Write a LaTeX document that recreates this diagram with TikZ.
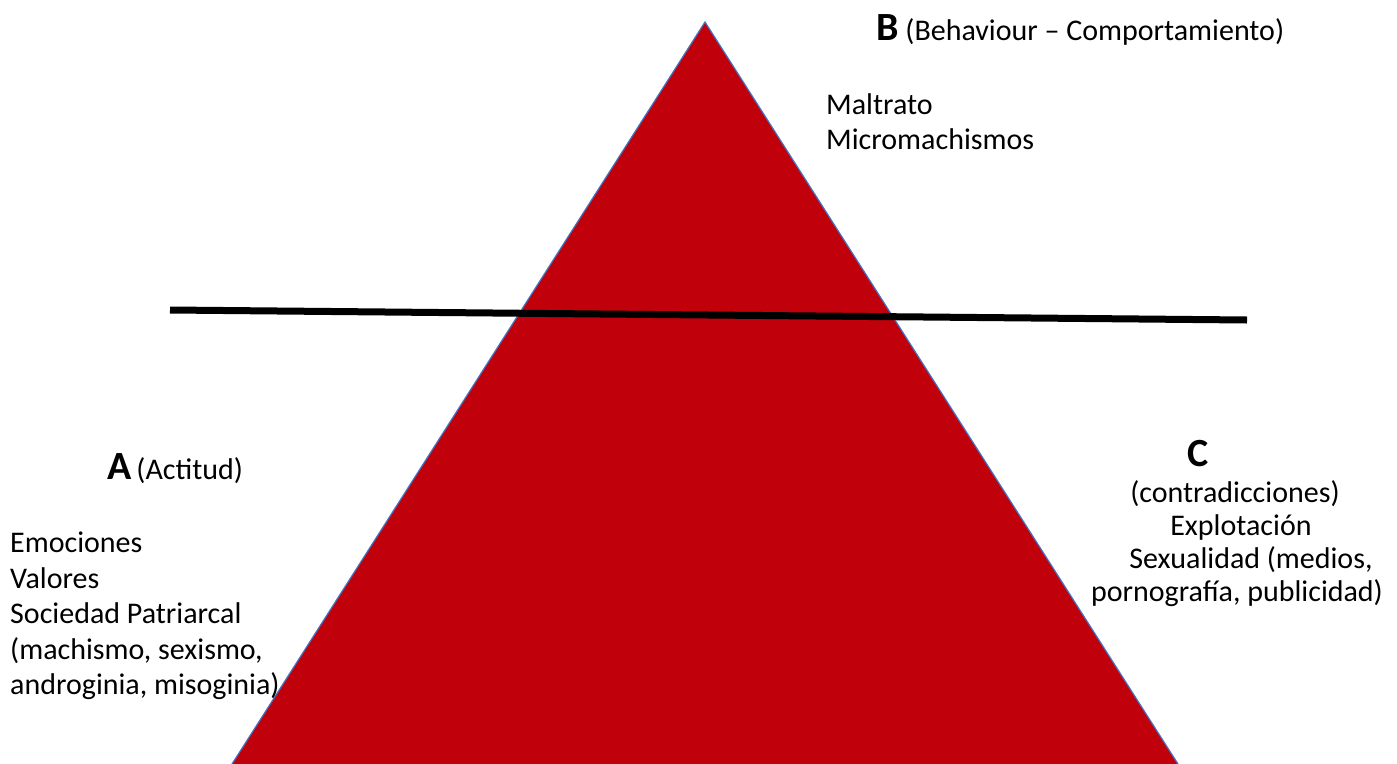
\documentclass[tikz,border=0pt]{standalone}
\usepackage{fontspec}
\setmainfont{Carlito}
\definecolor{tri}{RGB}{192,0,11}
\definecolor{edge}{RGB}{68,114,196}
\begin{document}
\begin{tikzpicture}[x=1pt,y=-1pt,
  txt/.style={anchor=base west,inner sep=0pt,font=\fontsize{30}{36}\selectfont},
  big/.style={font=\bfseries\fontsize{40}{44}\selectfont}]
\useasboundingbox (0,0) rectangle (1397,763);
\coordinate (apex) at (705,22);
\coordinate (bl) at (225,775);
\coordinate (br) at (1185,775);
\begin{scope}
\clip (0,0) rectangle (1397,763);
\fill[tri] (apex) -- (bl) -- (br) -- cycle;
\draw[edge,line width=1.2pt] (bl) -- (apex) -- (br);
\end{scope}
\coordinate (l1) at (170,310);
\coordinate (l2) at (1247,320);
\draw[line width=7pt] (l1) -- (l2);
% B
\node[txt] (bt) at (876,40) {{\bfseries\fontsize{40}{44}\selectfont B}\ (Behaviour – Comportamiento)};
\node[txt] (b1) at (826,114) {Maltrato};
\node[txt] (b2) at (826,149) {Micromachismos};
% A
\node[txt] (at) at (107,479) {{\bfseries\fontsize{40}{44}\selectfont A}\,(Actitud)};
\node[txt] (a1) at (10,552) {Emociones};
\node[txt] (a2) at (10,588) {Valores};
\node[txt] (a3) at (10,623) {Sociedad Patriarcal};
\node[txt] (a4) at (10,659) {(machismo, sexismo,};
\node[txt] (a5) at (10,694) {androginia, misoginia)};
% C
\node[txt,big,anchor=base] (ct) at (1198,466) {C};
\node[txt,anchor=base] (c1) at (1235,502) {(contradicciones)};
\node[txt,anchor=base] (c2) at (1241,535) {Explotación};
\node[txt,anchor=base] (c3) at (1251,568) {Sexualidad (medios,};
\node[txt,anchor=base] (c4) at (1237,601) {pornografía, publicidad)};
\end{tikzpicture}
\end{document}
